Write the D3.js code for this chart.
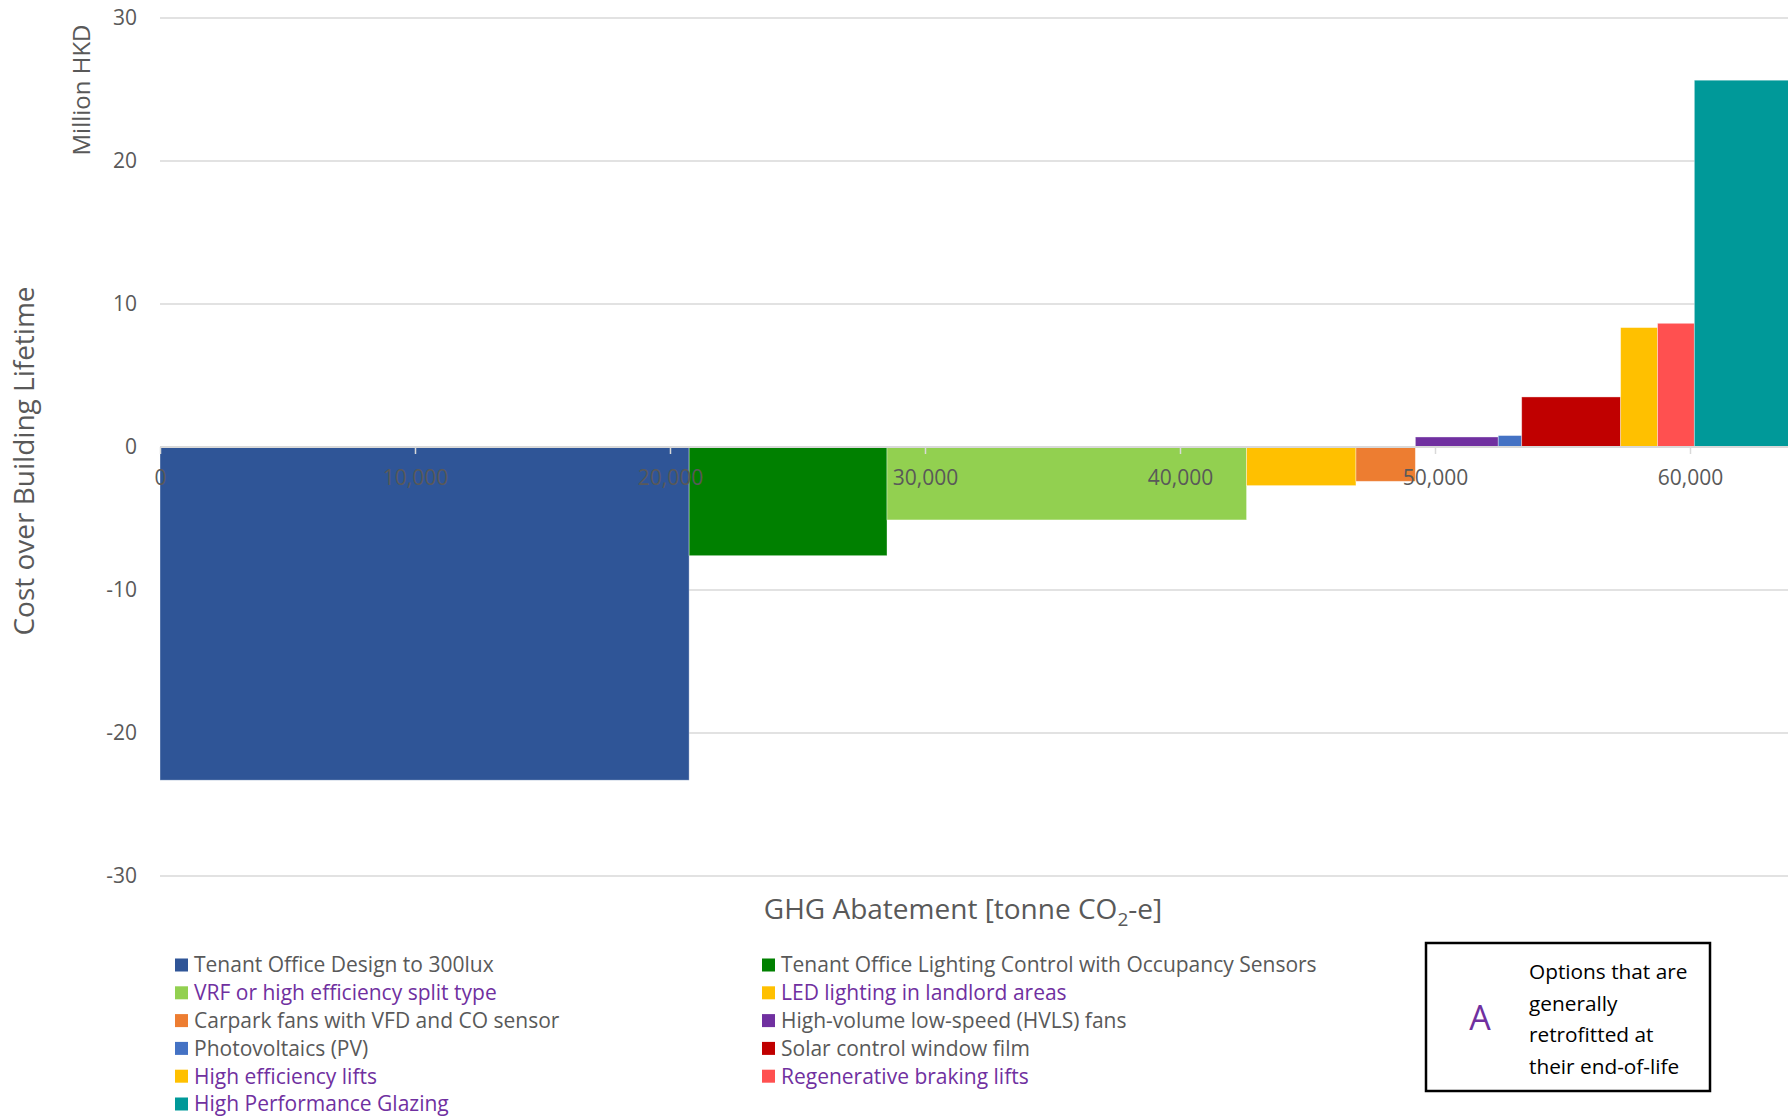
<!DOCTYPE html>
<html>
<head>
<meta charset="utf-8">
<script src="https://cdn.jsdelivr.net/npm/d3@7"></script>
<style>
  html, body { margin: 0; padding: 0; background: #fff; }
  svg { display: block; }
  text { font-family: "Open Sans", "Noto Sans", sans-serif; }
</style>
</head>
<body>
<svg id="chart" width="1788" height="1117"></svg>
<script>
// Abatement measures, in the order they sit along the cost curve
const measures = [
  "Tenant Office Design to 300lux",
  "Tenant Office Lighting Control with Occupancy Sensors",
  "VRF or high efficiency split type",
  "LED lighting in landlord areas",
  "Carpark fans with VFD and CO sensor",
  "High-volume low-speed (HVLS) fans",
  "Photovoltaics (PV)",
  "Solar control window film",
  "High efficiency lifts",
  "Regenerative braking lifts",
  "High Performance Glazing"
];
// GHG abatement of each measure (tonne CO2-e) = bar width
const abatement = [20750, 7760, 14100, 4290, 2330, 3250, 920, 3880, 1450, 1440, 4400];
// Cost over building lifetime (million HKD) = bar height
const lifetimeCost = [-23.3, -7.6, -5.1, -2.7, -2.4, 0.7, 0.8, 3.5, 8.35, 8.65, 25.65];
const barColors = ["#2F5597", "#008000", "#92D050", "#FFC000", "#ED7D31", "#7030A0",
                   "#4472C4", "#C00000", "#FFC000", "#FF5050", "#009999"];
// Options generally retrofitted at their end-of-life (legend text in purple)
const endOfLifeRetrofit = [false, false, true, true, false, false, false, false, true, true, true];

const xTicks = [0, 10000, 20000, 30000, 40000, 50000, 60000];
const yTicks = [-30, -20, -10, 0, 10, 20, 30];
const noteLines = ["Options that are", "generally", "retrofitted at", "their end-of-life"];

const W = 1788, H = 1117;
const svg = d3.select("#chart");
const axisGrey = "#595959";
const gridGrey = "#d9d9d9";
const purple = "#7030A0";

const x = d3.scaleLinear().domain([0, 70000]).range([160, 1945]);
const y = d3.scaleLinear().domain([-30, 30]).range([876, 18]);

// cumulative start of every bar
const ends = d3.cumsum(abatement);
const bars = measures.map((m, i) => ({
  name: m,
  x0: ends[i] - abatement[i],
  x1: ends[i],
  cost: lifetimeCost[i],
  color: barColors[i]
}));

// horizontal gridlines
svg.append("g")
  .selectAll("line")
  .data(yTicks.filter(d => d !== 0))
  .join("line")
  .attr("x1", x(0)).attr("x2", W)
  .attr("y1", d => y(d)).attr("y2", d => y(d))
  .attr("stroke", gridGrey).attr("stroke-width", 1.5);

// cost curve bars
svg.append("g")
  .selectAll("rect")
  .data(bars)
  .join("rect")
  .attr("x", d => x(d.x0))
  .attr("width", d => x(d.x1) - x(d.x0))
  .attr("y", d => y(Math.max(0, d.cost)))
  .attr("height", d => Math.abs(y(d.cost) - y(0)))
  .attr("fill", d => d.color)
  .attr("stroke", "#ffffff")
  .attr("stroke-opacity", 0.45)
  .attr("stroke-width", 0.8);

// horizontal axis along zero with downward ticks
const xAxis = d3.axisBottom(x)
  .tickValues(xTicks)
  .tickSize(7)
  .tickPadding(16)
  .tickFormat(d3.format(","));
const gx = svg.append("g")
  .attr("transform", `translate(0,${y(0)})`)
  .call(xAxis);
gx.select(".domain").remove();
gx.append("line")
  .attr("x1", x(0)).attr("x2", W)
  .attr("y1", 0).attr("y2", 0)
  .attr("stroke", gridGrey).attr("stroke-width", 2.2);
gx.selectAll(".tick line").attr("stroke", gridGrey).attr("stroke-width", 1.5);
gx.selectAll(".tick text")
  .attr("fill", axisGrey)
  .attr("font-size", 21)
  .attr("font-family", "'Open Sans', sans-serif");

// vertical axis labels
const yAxis = d3.axisLeft(y)
  .tickValues(yTicks)
  .tickSize(0)
  .tickPadding(23)
  .tickFormat(d => String(d));
const gy = svg.append("g")
  .attr("transform", `translate(${x(0)},0)`)
  .call(yAxis);
gy.select(".domain").remove();
gy.selectAll(".tick text")
  .attr("fill", axisGrey)
  .attr("font-size", 21)
  .attr("font-family", "'Open Sans', sans-serif");

// axis titles
svg.append("text")
  .attr("transform", "translate(34,461) rotate(-90)")
  .attr("text-anchor", "middle")
  .attr("fill", axisGrey)
  .attr("font-size", 28)
  .text("Cost over Building Lifetime");

svg.append("text")
  .attr("transform", "translate(90,90) rotate(-90)")
  .attr("text-anchor", "middle")
  .attr("fill", axisGrey)
  .attr("font-size", 24)
  .text("Million HKD");

const xTitle = svg.append("text")
  .attr("x", 963)
  .attr("y", 919)
  .attr("text-anchor", "middle")
  .attr("fill", axisGrey)
  .attr("font-size", 28);
xTitle.append("tspan").text("GHG Abatement [tonne CO");
xTitle.append("tspan").attr("font-size", 19).attr("dy", 7).text("2");
xTitle.append("tspan").attr("dy", -7).text("-e]");

// legend: two columns, row-major
const legendCols = [175, 762];
const legendTop = 965, legendStep = 27.8;
const legend = svg.append("g")
  .selectAll("g")
  .data(bars)
  .join("g")
  .attr("transform", (d, i) =>
    `translate(${legendCols[i % 2]},${legendTop + Math.floor(i / 2) * legendStep})`);
legend.append("rect")
  .attr("x", 0).attr("y", -6.5)
  .attr("width", 13).attr("height", 13)
  .attr("fill", d => d.color);
legend.append("text")
  .attr("x", 19)
  .attr("y", 0)
  .attr("dy", "0.35em")
  .attr("font-size", 21)
  .attr("fill", (d, i) => endOfLifeRetrofit[i] ? purple : axisGrey)
  .text(d => d.name);

// note box explaining the purple labels
const note = svg.append("g");
note.append("rect")
  .attr("x", 1426).attr("y", 943)
  .attr("width", 284).attr("height", 148)
  .attr("fill", "#fff")
  .attr("stroke", "#000")
  .attr("stroke-width", 2.5);
note.append("text")
  .attr("x", 1480).attr("y", 1018)
  .attr("dy", "0.35em")
  .attr("text-anchor", "middle")
  .attr("font-size", 34)
  .attr("fill", purple)
  .text("A");
note.selectAll("text.line")
  .data(noteLines)
  .join("text")
  .attr("class", "line")
  .attr("x", 1529)
  .attr("y", (d, i) => 972 + i * 31.6)
  .attr("dy", "0.35em")
  .attr("font-size", 20.8)
  .attr("fill", "#000")
  .text(d => d);
</script>
</body>
</html>
